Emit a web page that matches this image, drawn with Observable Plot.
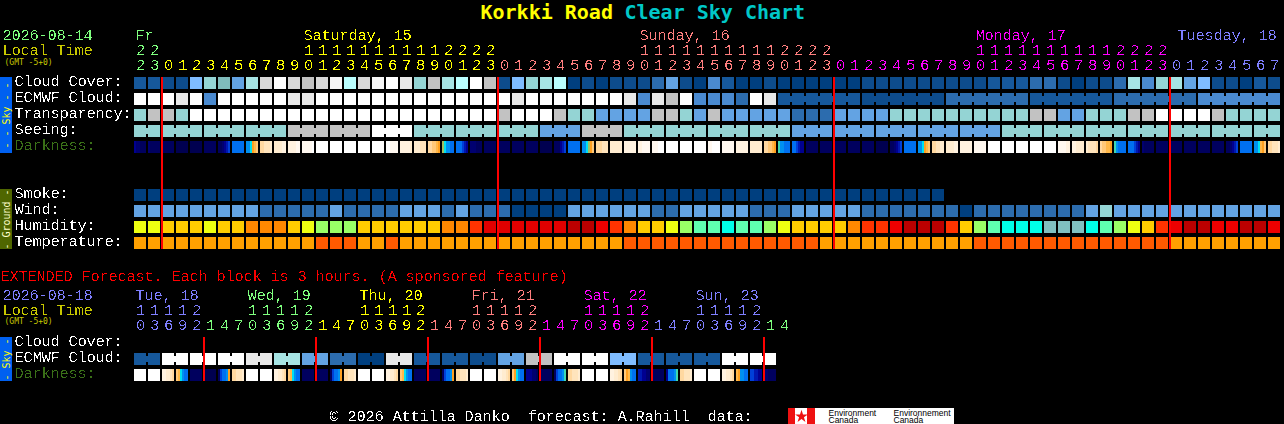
<!DOCTYPE html>
<html><head><meta charset="utf-8">
<script src="https://cdn.jsdelivr.net/npm/d3@7"></script>
<script src="https://cdn.jsdelivr.net/npm/@observablehq/plot@0.6"></script>
<style>html,body{margin:0;padding:0;background:#000;overflow:hidden}</style>
</head><body><div id="chart"></div>
<script>
// ---------- palettes ----------
const skyPalette = ["#003f7f","#0d4c8c","#16589b","#2c6cae","#4a8ad0","#63a3e3","#7fbcff","#80bcbc","#94d4d4","#a6e4e4","#baffff","#c2c2c2","#d8d8d8","#e8e8e8","#f6f6f6","#ffffff"];
const humidityPalette = {Y:"#eeff11",O:"#ffcc00",A:"#ff8800",R:"#ff3300",D:"#e00000",K:"#bb0000",E:"#ee0000",G:"#99ff66",M:"#5fffb0",C:"#00ffe8",T:"#80c0c0"};
const tempPalette = {o:"#ffa000",r:"#ff5a00"};
const darkPalette = {a:"#000050",b:"#00005e",c:"#000070",d:"#000090",e:"#0018b0",f:"#0040d8",g:"#0070f0",h:"#0090f0",i:"#00e0f0",j:"#40d8b0",k:"#a0c060",l:"#ffa020",m:"#ffb848",n:"#ffc878",o:"#ffd8a0",p:"#ffe4bc",q:"#ffecd0",r:"#fff2e0",s:"#fff8f0",t:"#ffffff"};
const dayColor = {fri:"#7fff7f",sat:"#ffff00",sun:"#ff7f7f",mon:"#ff00ff",tue:"#7f7fff"};

// ---------- main forecast (82 hourly columns) ----------
const hours = [22,23,0,1,2,3,4,5,6,7,8,9,10,11,12,13,14,15,16,17,18,19,20,21,22,23,0,1,2,3,4,5,6,7,8,9,10,11,12,13,14,15,16,17,18,19,20,21,22,23,0,1,2,3,4,5,6,7,8,9,10,11,12,13,14,15,16,17,18,19,20,21,22,23,0,1,2,3,4,5,6,7];
const midnightCols = [2,26,50,74];
const dayLabels = [["Fr",0,"fri"],["Saturday, 15",12,"sat"],["Sunday, 16",36,"sun"],["Monday, 17",60,"mon"],["Tuesday, 18",74.43,"tue"]];
const cloudCover = [2,2,1,1,6,8,7,5,9,12,15,12,11,12,14,10,12,14,15,13,8,11,9,10,15,11,1,6,8,9,10,0,1,0,1,1,1,3,5,1,0,4,2,0,0,1,0,0,0,0,0,0,1,1,1,1,1,1,1,1,1,2,2,2,3,3,1,0,1,1,3,9,4,8,9,5,6,1,1,0,2,1];
const ecmwfCloud = [15,15,15,13,15,4,15,15,15,15,15,13,13,15,15,15,15,15,15,15,15,15,15,15,15,15,15,13,15,15,15,15,15,15,15,13,4,13,11,15,4,4,4,3,15,13,2,2,2,2,2,2,1,1,1,1,1,1,3,3,3,3,3,3,2,2,2,2,2,2,3,3,3,3,3,3,4,4,4,4,4,4];
const transparency = [8,11,11,8,15,15,15,15,15,15,15,15,15,15,15,15,15,15,15,15,15,15,15,15,15,15,11,15,15,15,11,8,8,5,5,5,5,11,11,8,5,11,5,5,5,5,5,3,3,3,5,5,5,5,8,8,8,8,8,8,8,8,8,8,11,11,5,5,8,8,8,11,11,15,15,15,15,11,8,8,8,8];
const seeingRuns = [2,3,3,3,3,3,3,3,3,3,3,3,3,3,3,3,3,3,3,3,3,3,3,3,3,3,3,2];
const seeingValues = [8,8,8,8,11,11,15,8,8,8,5,11,8,8,8,8,5,5,5,5,5,8,8,8,8,8,8,8];
const darkness = ["dccbbb","cbbbbb","bbbbbb","aaaaaa","aaaaaa","bbbbbb","bbcdef","gggggg","hhilmn","oopppq","qqqqrr","rrrrss","ssssst","tttttt","tttttt","tttttt","tttttt","tttttt","ttssss","rrrrrq","qqqppp","oonnml","kihhgg","gggfed","cccbbb","bbbbbb","bbbbbb","bbbbbb","bbbbbb","aaaaaa","bbbdef","gggggg","hhikln","oooppp","qqqqqq","rrrrrr","rrssss","sssttt","tttttt","tttttt","tttttt","sstttt","ssssss","rrrrrr","qqqqqq","oonnml","jhhggg","ggfedd","bbbbbb","bbbbbb","bbbbbb","bbbbbb","bbbbbb","aaaaaa","bbcdef","gggggg","hhilmn","ooppqq","qqqqrr","rrrrrr","ssssss","tttttt","tttttt","tttttt","tttttt","tttttt","ssssrr","rrqqqq","qppppo","onnmml","jhgggg","gggfed","cbbbbb","bbbbbb","bbbbbb","bbbbbb","bbbbbb","bbbbbb","bbcdef","gggggg","hhimln","oopppq"];
const smoke = [0,0,0,0,0,0,0,0,0,0,0,0,0,0,0,0,0,0,0,0,0,0,0,0,0,0,0,0,0,0,0,0,0,0,0,0,0,0,0,0,0,0,0,0,0,0,0,0,0,0,0,0,0,0,0,0,0,0];
const wind = [5,5,5,5,5,5,5,5,5,3,3,3,3,3,5,3,3,3,3,5,5,5,3,5,3,3,3,0,0,0,0,5,5,5,5,5,5,3,3,5,5,5,5,5,3,3,3,5,5,5,5,5,3,3,3,3,3,3,3,0,3,3,3,3,3,3,3,3,5,8,5,5,5,5,5,5,5,5,5,5,5,5];
const humidity = ("YYOOOYOOAAAOYGGGOOOOO"+"OAARDDDDDDKKERAOOYGMMCMMGYOOOOA"+"RREKKKROGMCCCTTTCMGYOREKKEEKKE").split("");
const temperature = ("ooooooooooooo"+"rrr"+"oo"+"r"+"oooooooooooooooo"+"rrrrrrrrrrrrrr"+"ooooooooooo"+"rrrrrrrrrrrrrr"+"oooooooo").split("");

// ---------- extended forecast (46 three-hourly columns) ----------
const extHours = [10,13,16,19,22,1,4,7,10,13,16,19,22,1,4,7,10,13,16,19,22,1,4,7,10,13,16,19,22,1,4,7,10,13,16,19,22,1,4,7,10,13,16,19,22,1,4];
const extDayLabels = [["Tue, 18",0,"tue"],["Wed, 19",8,"fri"],["Thu, 20",16,"sat"],["Fri, 21",24,"sun"],["Sat, 22",32,"mon"],["Sun, 23",40,"tue"]];
const extHourColors = [[5,"tue"],[13,"fri"],[21,"sat"],[29,"sun"],[37,"mon"],[45,"tue"],[47,"fri"]];
const extMidnightCols = [5,13,21,29,37,45];
const extEcmwfBlocks = [2,15,15,15,13,9,5,3,0,13,2,2,1,5,11,15,15,6,2,2,2,15,15];
const extDarkness = ["tttttt","tttttt","rrqqpo","nmihgg","bbbbbb","aaaaaa","bfgghl","oopppq","tttttt","tttttt","rrqqpo","nmihgg","bbbbbb","bbbbbb","bfgghl","oopppq","tttttt","tttttt","rrqqpo","nmihgg","bbbbbb","bbbbbb","bfgghl","oopppq","tttttt","tttttt","rrqqpo","nlihgg","dddccb","bbbbbb","bfgghj","oopppq","tttttt","tttttt","rrqqpo","nlmhgg","eeddcc","bbbbbb","dggghj","oopppq","tttttt","tttttt","rrqqpo","mlhhgg","ffeedd","ccbbbb"];

// ---------- layout: column = 14 px, row = 16 px ----------
const colAt = px => (px - 134) / 14;
const rowAt = px => (px - 77) / 16;
const CW = 12 / 14, RH = 12 / 16, SUB = 2 / 14;
const mainRows = {cloud:0, ecmwf:1, transp:2, seeing:3, dark:4, smoke:7, wind:8, humid:9, temp:10};
const extRows = {ecmwf:rowAt(353), dark:rowAt(369)};

const cells = [], links = [], darkCells = [];
const push = (arr, row, colorOf) => arr.forEach((v,col)=>cells.push({col,row,w:CW,color:colorOf(v)}));
push(cloudCover, mainRows.cloud, v=>skyPalette[v]);
push(ecmwfCloud, mainRows.ecmwf, v=>skyPalette[v]);
push(transparency, mainRows.transp, v=>skyPalette[v]);
push(smoke, mainRows.smoke, v=>skyPalette[v]);
push(wind, mainRows.wind, v=>skyPalette[v]);
push(humidity, mainRows.humid, v=>humidityPalette[v]);
push(temperature, mainRows.temp, v=>tempPalette[v]);
const link = (col,row,color)=>links.push({col:col+CW,row:row+3/16,color});
for (let col=46; col<ecmwfCloud.length; col++) if ((col-46)%6<5) link(col,mainRows.ecmwf,skyPalette[ecmwfCloud[col]]);
let c0=0;
seeingRuns.forEach((n,i)=>{ for(let k=0;k<n;k++){ const color=skyPalette[seeingValues[i]]; cells.push({col:c0+k,row:mainRows.seeing,w:CW,color}); if(k<n-1) link(c0+k,mainRows.seeing,color);} c0+=n; });
extEcmwfBlocks.forEach((v,i)=>{ const color=skyPalette[v]; [0,1].forEach(k=>cells.push({col:i*2+k,row:extRows.ecmwf,w:CW,color})); link(i*2,extRows.ecmwf,color); });
const pushDark=(arr,row)=>arr.forEach((s,col)=>[...s].forEach((ch,i)=>darkCells.push({col:col+i*SUB,row,color:darkPalette[ch]})));
pushDark(darkness,mainRows.dark);
pushDark(extDarkness,extRows.dark);

// text tables
const mainColor = col => dayColor[col<2?"fri":col<26?"sat":col<50?"sun":col<74?"mon":"tue"];
const extColor = col => dayColor[extHourColors.find(e=>col<e[0])[1]];
const digits = [];
hours.forEach((h,col)=>{ const color=mainColor(col); digits.push({col,px:65,t:String(h%10),color}); if(h>=10) digits.push({col,px:50,t:String(Math.floor(h/10)),color}); });
extHours.forEach((h,col)=>{ const color=extColor(col); digits.push({col,px:325,t:String(h%10),color}); if(h>=10) digits.push({col,px:310,t:String(Math.floor(h/10)),color}); });
const FONT="Liberation Mono";
const leftText = [
 ["2026-08-14",2,35,dayColor.fri],["Local Time",2,50,"#c8c800"],
 ["Cloud Cover:",14,81,"#fff"],["ECMWF Cloud:",14,97,"#fff"],["Transparency:",14,113,"#fff"],["Seeing:",14,129,"#fff"],["Darkness:",14,145,"#3a7018"],
 ["Smoke:",14,193,"#fff"],["Wind:",14,209,"#fff"],["Humidity:",14,225,"#fff"],["Temperature:",14,241,"#fff"],
 ["EXTENDED Forecast. Each block is 3 hours. (A sponsored feature)",0,276,"#ff0000"],
 ["2026-08-18",2,295,dayColor.tue],["Local Time",2,310,"#c8c800"],
 ["Cloud Cover:",14,341,"#fff"],["ECMWF Cloud:",14,357,"#fff"],["Darkness:",14,373,"#3a7018"],
 ["© 2026 Attilla Danko  forecast: A.Rahill  data:",329,415.5,"#fff"]
].map(([t,px,py,color])=>({t,x:colAt(px),y:rowAt(py),color}));
dayLabels.forEach(([t,col,k])=>leftText.push({t,x:col+1/14,y:rowAt(35),color:dayColor[k]}));
extDayLabels.forEach(([t,col,k])=>leftText.push({t,x:col+1/14,y:rowAt(295),color:dayColor[k]}));
const bars=[
 {py1:77,py2:153,fill:"#0060f0",t:"- - Sky - -",color:"#ffff00"},
 {py1:189,py2:249,fill:"#4f6600",t:"- Ground -",color:"#ffffcc"},
 {py1:337,py2:381,fill:"#0060f0",t:"- Sky -",color:"#ffff00"}];
const logoRects=[[788,954,"#ffffff"],[788,795,"#ee1111"],[807,815,"#ee1111"]];
const logoText=[["Environment",828,412.5],["Canada",828,420],["Environnement",893,412.5],["Canada",893,420]];
const gmt=[{y:62,t:"(GMT -5+0)"},{y:321,t:"(GMT -5+0)"}];

const crisp={shapeRendering:"crispEdges"};
const pixelText={fontFamily:FONT,fontSize:15.5,className:"px"};
const chart = Plot.plot({
  width:1284,height:424,margin:0,
  style:{background:"#000"},
  x:{axis:null,domain:[colAt(0),colAt(1284)],range:[0,1284]},
  y:{axis:null,domain:[rowAt(0),rowAt(424)],range:[0,424]},
  color:{type:"identity"},
  marks:[
    Plot.rect(cells,{x1:"col",x2:d=>d.col+d.w,y1:"row",y2:d=>d.row+RH,fill:"color",...crisp}),
    Plot.rect(links,{x1:"col",x2:d=>d.col+2/14,y1:"row",y2:d=>d.row+6/16,fill:"color",...crisp}),
    Plot.rect(darkCells,{x1:"col",x2:d=>d.col+SUB,y1:"row",y2:d=>d.row+RH,fill:"color",...crisp}),
    Plot.ruleX(midnightCols,{y1:0,y2:rowAt(249),stroke:"#ff0000",strokeWidth:2,dx:-0.5,...crisp}),
    Plot.ruleX(extMidnightCols,{y1:rowAt(337),y2:rowAt(381),stroke:"#ff0000",strokeWidth:2,dx:-0.5,...crisp}),
    // side bars
    Plot.rect(bars,{x1:colAt(0),x2:colAt(12),y1:d=>rowAt(d.py1),y2:d=>rowAt(d.py2),fill:"fill",...crisp}),
    Plot.text(bars,{x:colAt(6),y:d=>rowAt((d.py1+d.py2)/2),text:"t",fill:"color",rotate:-90,fontFamily:"DejaVu Sans Mono",fontSize:10}),
    // text
    Plot.text(["Korkki Road"],{x:colAt(480),y:rowAt(12),text:d=>d,textAnchor:"start",fill:"#ffff00",fontFamily:"DejaVu Sans Mono",fontSize:20,fontWeight:"bold"}),
    Plot.text(["Clear Sky Chart"],{x:colAt(624),y:rowAt(12),text:d=>d,textAnchor:"start",fill:"#00c8c8",fontFamily:"DejaVu Sans Mono",fontSize:20,fontWeight:"bold"}),
    Plot.text(leftText,{x:"x",y:"y",text:"t",fill:"color",textAnchor:"start",...pixelText}),
    Plot.text(digits,{x:d=>d.col+CW/2,y:d=>rowAt(d.px),text:"t",fill:"color",...pixelText}),
    Plot.text(gmt,{x:colAt(4),y:d=>rowAt(d.y),text:"t",textAnchor:"start",fill:"#c8c800",fontFamily:"DejaVu Sans Mono",fontSize:8}),
    // logo
    Plot.rect(logoRects,{x1:d=>colAt(d[0]),x2:d=>colAt(d[1]),y1:rowAt(408),y2:rowAt(424),fill:d=>d[2],...crisp}),
    Plot.dot(["leaf"],{x:colAt(801),y:rowAt(416),r:4,symbol:"star",fill:"#ee1111"}),
    Plot.text(logoText,{x:d=>colAt(d[1]),y:d=>rowAt(d[2]),text:d=>d[0],textAnchor:"start",fill:"#000",fontFamily:"Liberation Sans",fontSize:8.5})
  ]
});
chart.insertAdjacentHTML("afterbegin",'<defs><filter id="crisp" x="-5%" y="-20%" width="110%" height="140%" color-interpolation-filters="sRGB"><feComponentTransfer><feFuncA type="discrete" tableValues="0 0 0 1 1"/></feComponentTransfer></filter></defs>');
chart.querySelectorAll("g.px text").forEach(t=>{ t.style.filter="url(#crisp)"; t.style.letterSpacing="-0.3px"; });
document.getElementById("chart").append(chart);
</script></body></html>
